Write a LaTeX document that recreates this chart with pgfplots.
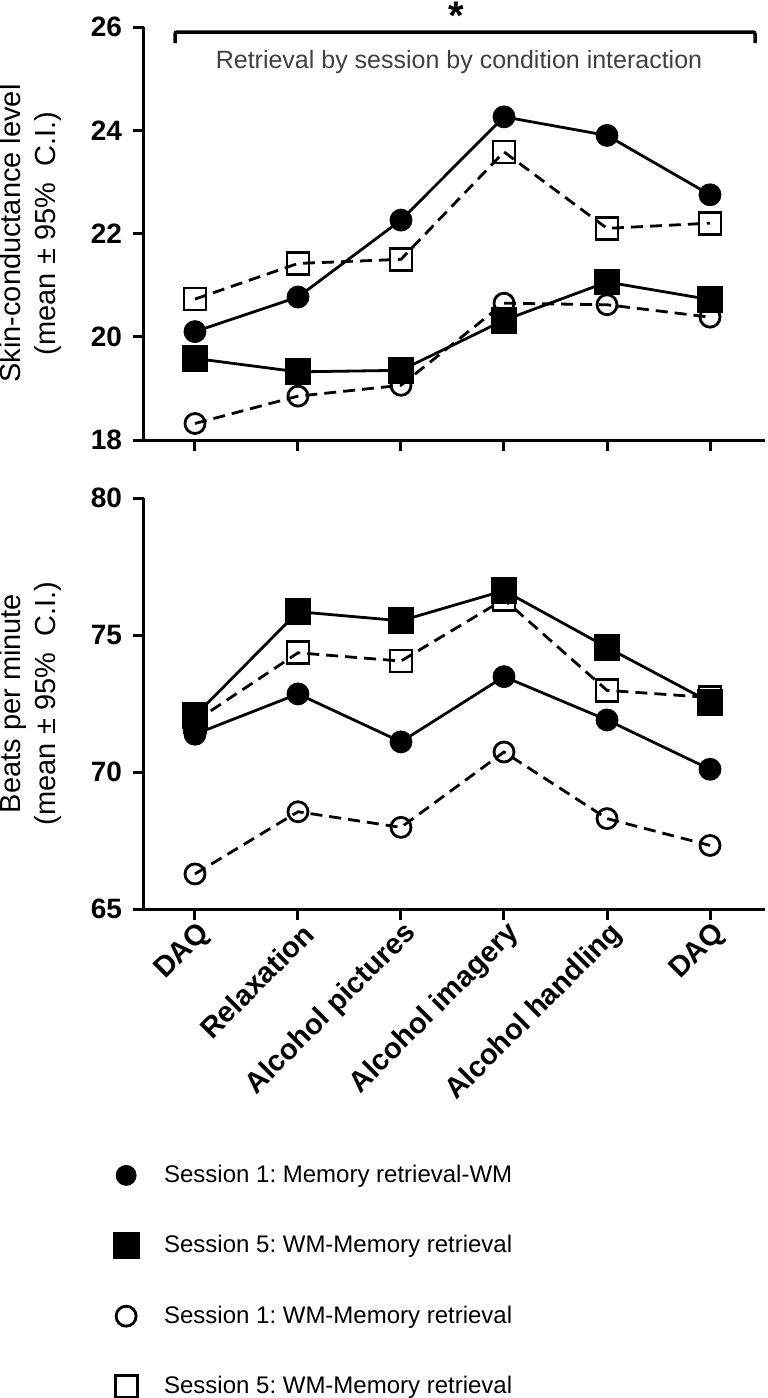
\documentclass[border=0pt]{standalone}
\usepackage{pgfplots}
\pgfplotsset{compat=1.18}
\usepackage{fontspec}
\setmainfont{Liberation Sans}
\frenchspacing

% 1 px of the reference = 0.5pt
\pgfplotsset{
  panel/.style={
    scale only axis, width=310.5pt,
    xmin=-0.495, xmax=5.534,
    axis x line*=bottom, axis y line*=left,
    axis line style={line width=1.5pt, -},
    tick align=outside, major tick length=5.5pt,
    tick style={line width=1.5pt, black},
    xtick={0,...,5},
    /pgf/number format/assume math mode=true,
    yticklabel style={font=\bfseries\fontsize{14}{16}\selectfont, xshift=-2pt},
    ylabel style={at={(axis description cs:-0.182,0.5)}, anchor=center,
      align=center, font=\fontsize{14.5}{17.5}\selectfont},
    clip=false,
  },
  fcirc/.style={black, solid, line width=1.4pt, mark=*, mark size=5pt, mark options={solid}},
  fsq/.style={black, solid, line width=1.4pt, mark=square*, mark size=6pt, mark options={solid}},
  ocirc/.style={black, line width=1.4pt, dash pattern=on 6pt off 3.5pt, mark=o, mark size=5pt, mark options={solid, line width=1.4pt}},
  osq/.style={black, line width=1.4pt, dash pattern=on 6pt off 3.5pt, mark=square, mark size=5.5pt, mark options={solid, line width=1.4pt}},
}

\begin{document}
\begin{tikzpicture}
\useasboundingbox (0,0) rectangle (383.5pt,-699pt);

% top panel: skin conductance
\begin{axis}[panel, at={(72pt,-220pt)}, anchor=south west, height=206.5pt,
  ymin=18, ymax=26, ytick={18,20,22,24,26}, xticklabels={},
  ylabel={Skin-conductance level\\(mean ± 95\%\ \ C.I.)}]
\addplot[ocirc] coordinates {(0,18.32)(1,18.85)(2,19.06)(3,20.65)(4,20.62)(5,20.38)};
\addplot[osq] coordinates {(0,20.73)(1,21.42)(2,21.50)(3,23.58)(4,22.10)(5,22.20)};
\addplot[fcirc] coordinates {(0,20.10)(1,20.77)(2,22.26)(3,24.26)(4,23.90)(5,22.75)};
\addplot[fsq] coordinates {(0,19.58)(1,19.32)(2,19.35)(3,20.32)(4,21.06)(5,20.72)};
\end{axis}

% bottom panel: heart rate
\begin{axis}[panel, at={(72pt,-454.5pt)}, anchor=south west, height=205.5pt,
  ymin=65, ymax=80, ytick={65,70,75,80},
  xticklabels={DAQ,Relaxation,Alcohol pictures,Alcohol imagery,Alcohol handling,DAQ},
  xticklabel style={rotate=45, anchor=east, xshift=4pt, yshift=-7pt,
    font=\bfseries\fontsize{14.5}{16}\selectfont},
  ylabel={Beats per minute\\(mean ± 95\%\ \ C.I.)},
  legend style={draw=none, fill=none, at={(axis description cs:-0.06,-0.905)}, anchor=west,
    font=\fontsize{12}{14}\selectfont, row sep=21pt, column sep=10.5pt},
  legend cell align=left]
\addplot[ocirc, forget plot] coordinates {(0,66.28)(1,68.55)(2,67.98)(3,70.73)(4,68.30)(5,67.32)};
\addplot[osq, forget plot] coordinates {(0,71.85)(1,74.35)(2,74.05)(3,76.30)(4,72.98)(5,72.72)};
\addplot[fcirc, forget plot] coordinates {(0,71.38)(1,72.85)(2,71.10)(3,73.48)(4,71.90)(5,70.10)};
\addplot[fsq, forget plot] coordinates {(0,72.05)(1,75.85)(2,75.52)(3,76.62)(4,74.55)(5,72.55)};
\addlegendimage{only marks, black, mark=*, mark size=5pt}
\addlegendentry{Session 1: Memory retrieval-WM}
\addlegendimage{only marks, black, mark=square*, mark size=6.5pt}
\addlegendentry{Session 5: WM-Memory retrieval}
\addlegendimage{only marks, black, mark=o, mark size=5pt, line width=1.4pt}
\addlegendentry{Session 1: WM-Memory retrieval}
\addlegendimage{only marks, black, mark=square, mark size=5.5pt, line width=1.4pt}
\addlegendentry{Session 5: WM-Memory retrieval}
\end{axis}

% interaction bracket
\draw[line width=1.75pt, rounded corners=1pt] (87.5pt,-21.5pt) -- (87.5pt,-16pt) -- (377.5pt,-16pt) -- (377.5pt,-21.5pt);
\node[font=\bfseries\fontsize{20}{20}\selectfont] at (228pt,-8pt) {*};
\node[text=black!75, font=\fontsize{12.5}{15}\selectfont] at (229.5pt,-31pt) {Retrieval by session by condition interaction};
\end{tikzpicture}
\end{document}
